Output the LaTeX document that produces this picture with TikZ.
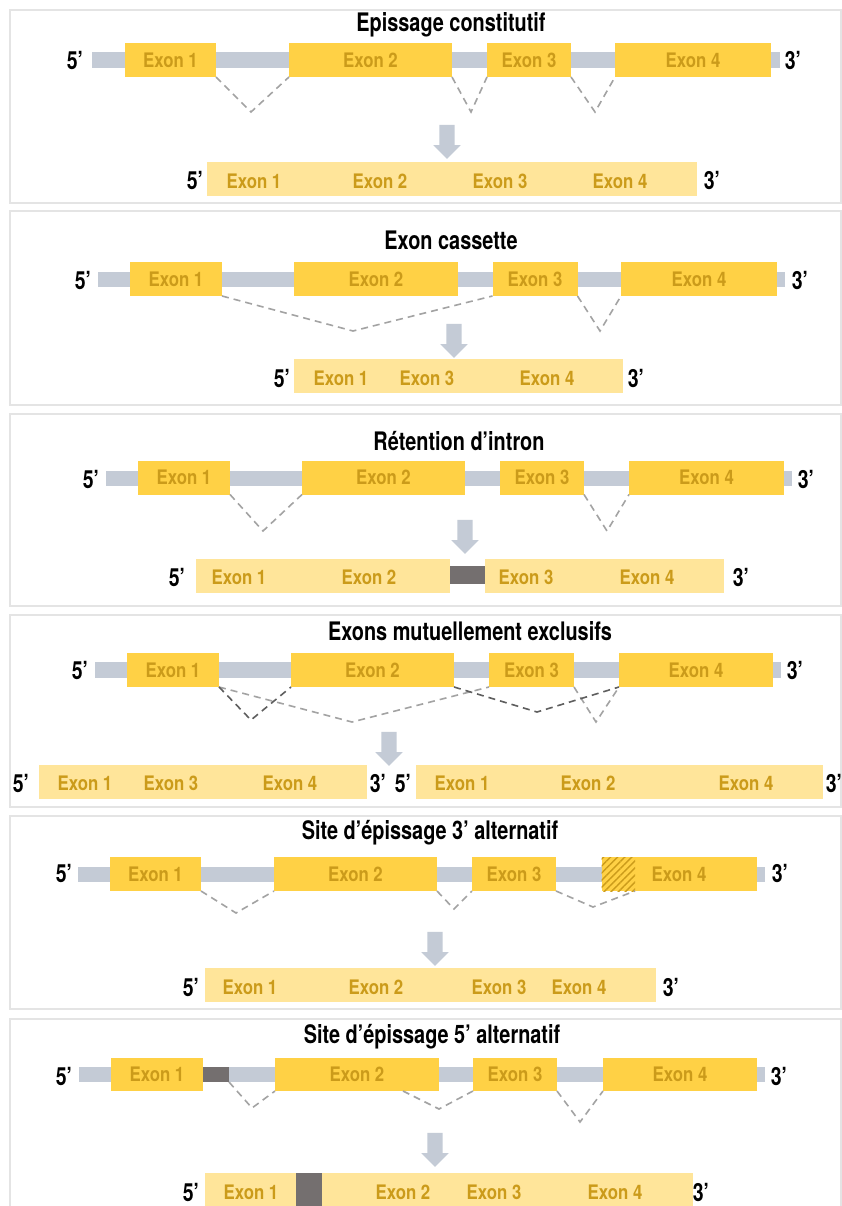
\documentclass[tikz,border=0pt]{standalone}
\usepackage{fontspec}
\setmainfont{TeX Gyre Heros}
\newfontfamily\labfont[FakeStretch=0.84]{TeX Gyre Heros}
\newfontfamily\headfont[FakeStretch=0.78]{TeX Gyre Heros}
\usetikzlibrary{shapes.arrows,patterns.meta}
\definecolor{introngray}{HTML}{C4CBD6}
\definecolor{exonyellow}{HTML}{FFD145}
\definecolor{exongold}{HTML}{CB9B1A}
\definecolor{mrnayellow}{HTML}{FFE59A}
\definecolor{retained}{HTML}{746F6F}
\definecolor{splicegray}{HTML}{A3A3A3}
\definecolor{splicedark}{HTML}{5E5E5E}
\definecolor{framegray}{HTML}{E4E4E4}
\begin{document}
\begin{tikzpicture}[x=1pt,y=-1pt]

      \tikzset{panel/.style={draw=framegray, line width=1.5pt},
        intron/.style={fill=introngray, inner sep=0pt, outer sep=0pt, minimum height=16pt},
        exon/.style={fill=exonyellow, text=exongold, inner sep=0pt, outer sep=0pt, minimum height=34pt, font=\labfont\bfseries\fontsize{20}{22}\selectfont},
        mrna/.style={fill=mrnayellow, inner sep=0pt, outer sep=0pt, minimum height=34pt},
        retain/.style={fill=retained, inner sep=0pt, outer sep=0pt},
        lab/.style={text=exongold, font=\labfont\bfseries\fontsize{20}{22}\selectfont},
        prime/.style={font=\headfont\bfseries\fontsize{25}{26}\selectfont},
        title/.style={font=\headfont\bfseries\fontsize{25.5}{27}\selectfont},
        splice/.style={draw=splicegray, line width=1.6pt, dash pattern=on 7pt off 5pt},
        splicedk/.style={splice, draw=splicedark},
        down/.style={single arrow, shape border rotate=270, fill=introngray, draw=none, inner sep=7.5pt,
          minimum height=34pt, minimum width=27pt, single arrow head extend=6pt, single arrow head indent=0pt}}
      \useasboundingbox (0,0) rectangle (842,1206);
      \fill[white] (0,0) rectangle (842,1206);

%% Epissage constitutif
      	\draw[panel] (10,10) rectangle (841,203);
      	\node[title] (t1) at (451,25) {Epissage constitutif};
      	\node[intron, minimum width=688pt] (bar1) at (436,60) {};
      	\node[exon, minimum width=91pt] (e11) at (170.5,60) {Exon 1};
      	\node[exon, minimum width=163pt] (e12) at (370.5,60) {Exon 2};
      	\node[exon, minimum width=84pt] (e13) at (529,60) {Exon 3};
      	\node[exon, minimum width=156pt] (e14) at (693,60) {Exon 4};
      	\node[prime] (f1) at (75,61) {5’};
      	\node[prime] (g1) at (793,61) {3’};
      	\coordinate (v11) at (251,112);
      	\coordinate (v12) at (471,112);
      	\coordinate (v13) at (595,112);
		\draw[splice] (e11.south east) -- (v11) -- (e12.south west);
		\draw[splice] (e12.south east) -- (v12) -- (e13.south west);
		\draw[splice] (e13.south east) -- (v13) -- (e14.south west);
      	\node[down] (d1) at (447,138) {};
      	\node[mrna, minimum width=490pt] (m1) at (452,179.5) {};
      	\node[lab] (l11) at (254,181) {Exon 1};
      	\node[lab] (l12) at (380,181) {Exon 2};
      	\node[lab] (l13) at (500,181) {Exon 3};
      	\node[lab] (l14) at (620,181) {Exon 4};
      	\node[prime] (h1) at (195,181) {5’};
      	\node[prime] (k1) at (712,181) {3’};

%% Exon cassette
      	\draw[panel] (10,211) rectangle (841,405);
      	\node[title] (t2) at (451,240) {Exon cassette};
      	\node[intron, minimum width=687pt, minimum height=15pt] (bar2) at (441.5,279.5) {};
      	\node[exon, minimum width=92pt] (e21) at (176,279) {Exon 1};
      	\node[exon, minimum width=164pt] (e22) at (376,279) {Exon 2};
      	\node[exon, minimum width=85pt] (e23) at (535,279) {Exon 3};
      	\node[exon, minimum width=156pt] (e24) at (699,279) {Exon 4};
      	\node[prime] (f2) at (83,280) {5’};
      	\node[prime] (g2) at (800,280) {3’};
      	\coordinate (v21) at (353,331);
      	\coordinate (v22) at (600,331);
		\draw[splice] (e21.south east) -- (v21) -- (e23.south west);
		\draw[splice] (e23.south east) -- (v22) -- (e24.south west);
      	\node[down] (d2) at (454,337) {};
      	\node[mrna, minimum width=329pt] (m2) at (458.5,376) {};
      	\node[lab] (l21) at (341,378) {Exon 1};
      	\node[lab] (l23) at (427,378) {Exon 3};
      	\node[lab] (l24) at (547,378) {Exon 4};
      	\node[prime] (h2) at (282,378) {5’};
      	\node[prime] (k2) at (636,378) {3’};

%% Retention d'intron
      	\draw[panel] (10,414) rectangle (841,606);
      	\node[title] (t3) at (459,441) {Rétention d’intron};
      	\node[intron, minimum width=686pt, minimum height=15pt] (bar3) at (449,478.5) {};
      	\node[exon, minimum width=92pt] (e31) at (184,477.5) {Exon 1};
      	\node[exon, minimum width=163pt] (e32) at (383.5,477.5) {Exon 2};
      	\node[exon, minimum width=84pt] (e33) at (542,477.5) {Exon 3};
      	\node[exon, minimum width=155pt] (e34) at (706.5,477.5) {Exon 4};
      	\node[prime] (f3) at (91,479) {5’};
      	\node[prime] (g3) at (806,479) {3’};
      	\coordinate (v31) at (263,531);
      	\coordinate (v33) at (607,531);
		\draw[splice] (e31.south east) -- (v31) -- (e32.south west);
		\draw[splice] (e33.south east) -- (v33) -- (e34.south west);
      	\node[down] (d3) at (465,533) {};
      	\node[mrna, minimum width=254pt] (m3a) at (323,575.5) {};
      	\node[retain, minimum width=35pt, minimum height=18pt] (r3) at (467.5,575) {};
      	\node[mrna, minimum width=239pt] (m3b) at (604.5,575.5) {};
      	\node[lab] (l31) at (239,577) {Exon 1};
      	\node[lab] (l32) at (369,577) {Exon 2};
      	\node[lab] (l33) at (526,577) {Exon 3};
      	\node[lab] (l34) at (647,577) {Exon 4};
      	\node[prime] (h3) at (177,577) {5’};
      	\node[prime] (k3) at (741,577) {3’};

%% Exons mutuellement exclusifs
      	\draw[panel] (10,615) rectangle (841,807);
      	\node[title] (t4) at (470,631) {Exons mutuellement exclusifs};
      	\node[intron, minimum width=686pt] (bar4) at (438,670) {};
      	\node[exon, minimum width=92pt] (e41) at (173,670) {Exon 1};
      	\node[exon, minimum width=163pt] (e42) at (372.5,670) {Exon 2};
      	\node[exon, minimum width=85pt] (e43) at (531.5,670) {Exon 3};
      	\node[exon, minimum width=154pt] (e44) at (696,670) {Exon 4};
      	\node[prime] (f4) at (80,670) {5’};
      	\node[prime] (g4) at (795,670) {3’};
      	\coordinate (v41) at (251,720);
      	\coordinate (v42) at (352,722);
      	\coordinate (v43) at (537,712);
      	\coordinate (v44) at (596,722);
		\draw[splice] (e41.south east) -- (v42) -- (e43.south west);
		\draw[splice] (e43.south east) -- (v44) -- (e44.south west);
		\draw[splicedk] (e41.south east) -- (v41) -- (e42.south west);
		\draw[splicedk] (e42.south east) -- (v43) -- (e44.south west);
      	\node[down] (d4) at (389,745) {};
      	\node[mrna, minimum width=328pt] (m4a) at (203,782) {};
      	\node[lab] (l41a) at (85,783) {Exon 1};
      	\node[lab] (l43a) at (171,783) {Exon 3};
      	\node[lab] (l44a) at (290,783) {Exon 4};
      	\node[prime] (h4a) at (21,783) {5’};
      	\node[prime] (k4a) at (378,783) {3’};
      	\node[mrna, minimum width=407pt] (m4b) at (619.5,782) {};
      	\node[lab] (l41b) at (462,783) {Exon 1};
      	\node[lab] (l42b) at (588,783) {Exon 2};
      	\node[lab] (l44b) at (746,783) {Exon 4};
      	\node[prime] (h4b) at (403,783) {5’};
      	\node[prime] (k4b) at (834,783) {3’};

%% Site d'epissage 3' alternatif
      	\draw[panel] (10,816) rectangle (841,1009);
      	\node[title] (t5) at (430,833) {Site d’épissage 3’ alternatif};
      	\node[intron, minimum width=687pt, minimum height=15pt] (bar5) at (421.5,874.5) {};
      	\node[exon, minimum width=91pt] (e51) at (155.5,874) {Exon 1};
      	\node[exon, minimum width=163pt] (e52) at (355.5,874) {Exon 2};
      	\node[exon, minimum width=84pt] (e53) at (514,874) {Exon 3};
      	\node[exon, minimum width=155pt] (e54) at (679,874) {Exon 4};
      	\fill[pattern={Lines[angle=45,distance=5pt,line width=1.4pt]}, pattern color=exongold] (e54.north west) rectangle ++(33.5,34);
      	\coordinate (w54) at (635,891);
      	\node[prime] (f5) at (64,873) {5’};
      	\node[prime] (g5) at (780,873) {3’};
      	\coordinate (v51) at (236,913);
      	\coordinate (v52) at (454,909);
      	\coordinate (v53) at (593,907);
		\draw[splice] (e51.south east) -- (v51) -- (e52.south west);
		\draw[splice] (e52.south east) -- (v52) -- (e53.south west);
		\draw[splice] (e53.south east) -- (v53) -- (w54);
      	\node[down] (d5) at (435,945) {};
      	\node[mrna, minimum width=451pt] (m5) at (430.5,985) {};
      	\node[lab] (l51) at (250,987) {Exon 1};
      	\node[lab] (l52) at (376,987) {Exon 2};
      	\node[lab] (l53) at (499,987) {Exon 3};
      	\node[lab] (l54) at (579,987) {Exon 4};
      	\node[prime] (h5) at (191,987) {5’};
      	\node[prime] (k5) at (671,987) {3’};

%% Site d'epissage 5' alternatif
      	\draw[panel] (10,1019) rectangle (841,1230);
      	\node[title] (t6) at (432,1037) {Site d’épissage 5’ alternatif};
      	\node[intron, minimum width=686pt, minimum height=15pt] (bar6) at (422,1074.5) {};
      	\node[exon, minimum width=92pt, minimum height=33pt] (e61) at (157,1074.5) {Exon 1};
      	\node[retain, minimum width=26pt, minimum height=15pt] (r6) at (216,1074.5) {};
      	\node[exon, minimum width=164pt, minimum height=33pt] (e62) at (357,1074.5) {Exon 2};
      	\node[exon, minimum width=84pt, minimum height=33pt] (e63) at (515,1074.5) {Exon 3};
      	\node[exon, minimum width=154pt, minimum height=33pt] (e64) at (680,1074.5) {Exon 4};
      	\node[prime] (f6) at (64,1076) {5’};
      	\node[prime] (g6) at (779,1076) {3’};
      	\coordinate (u62) at (403,1091);
      	\coordinate (v61) at (252,1108);
      	\coordinate (v62) at (439,1109);
      	\coordinate (v63) at (580,1122);
		\draw[splice] (r6.south east) -- (v61) -- (e62.south west);
		\draw[splice] (u62) -- (v62) -- (e63.south west);
		\draw[splice] (e63.south east) -- (v63) -- (e64.south west);
      	\node[down] (d6) at (435,1146) {};
      	\node[mrna, minimum width=488pt] (m6) at (449,1190) {};
      	\node[retain, minimum width=26pt, minimum height=34pt] (r6m) at (309,1190) {};
      	\node[lab] (l61) at (251,1192) {Exon 1};
      	\node[lab] (l62) at (403,1192) {Exon 2};
      	\node[lab] (l63) at (494,1192) {Exon 3};
      	\node[lab] (l64) at (615,1192) {Exon 4};
      	\node[prime] (h6) at (191,1192) {5’};
      	\node[prime] (k6) at (701,1192) {3’};

	\end{tikzpicture}
\end{document}
